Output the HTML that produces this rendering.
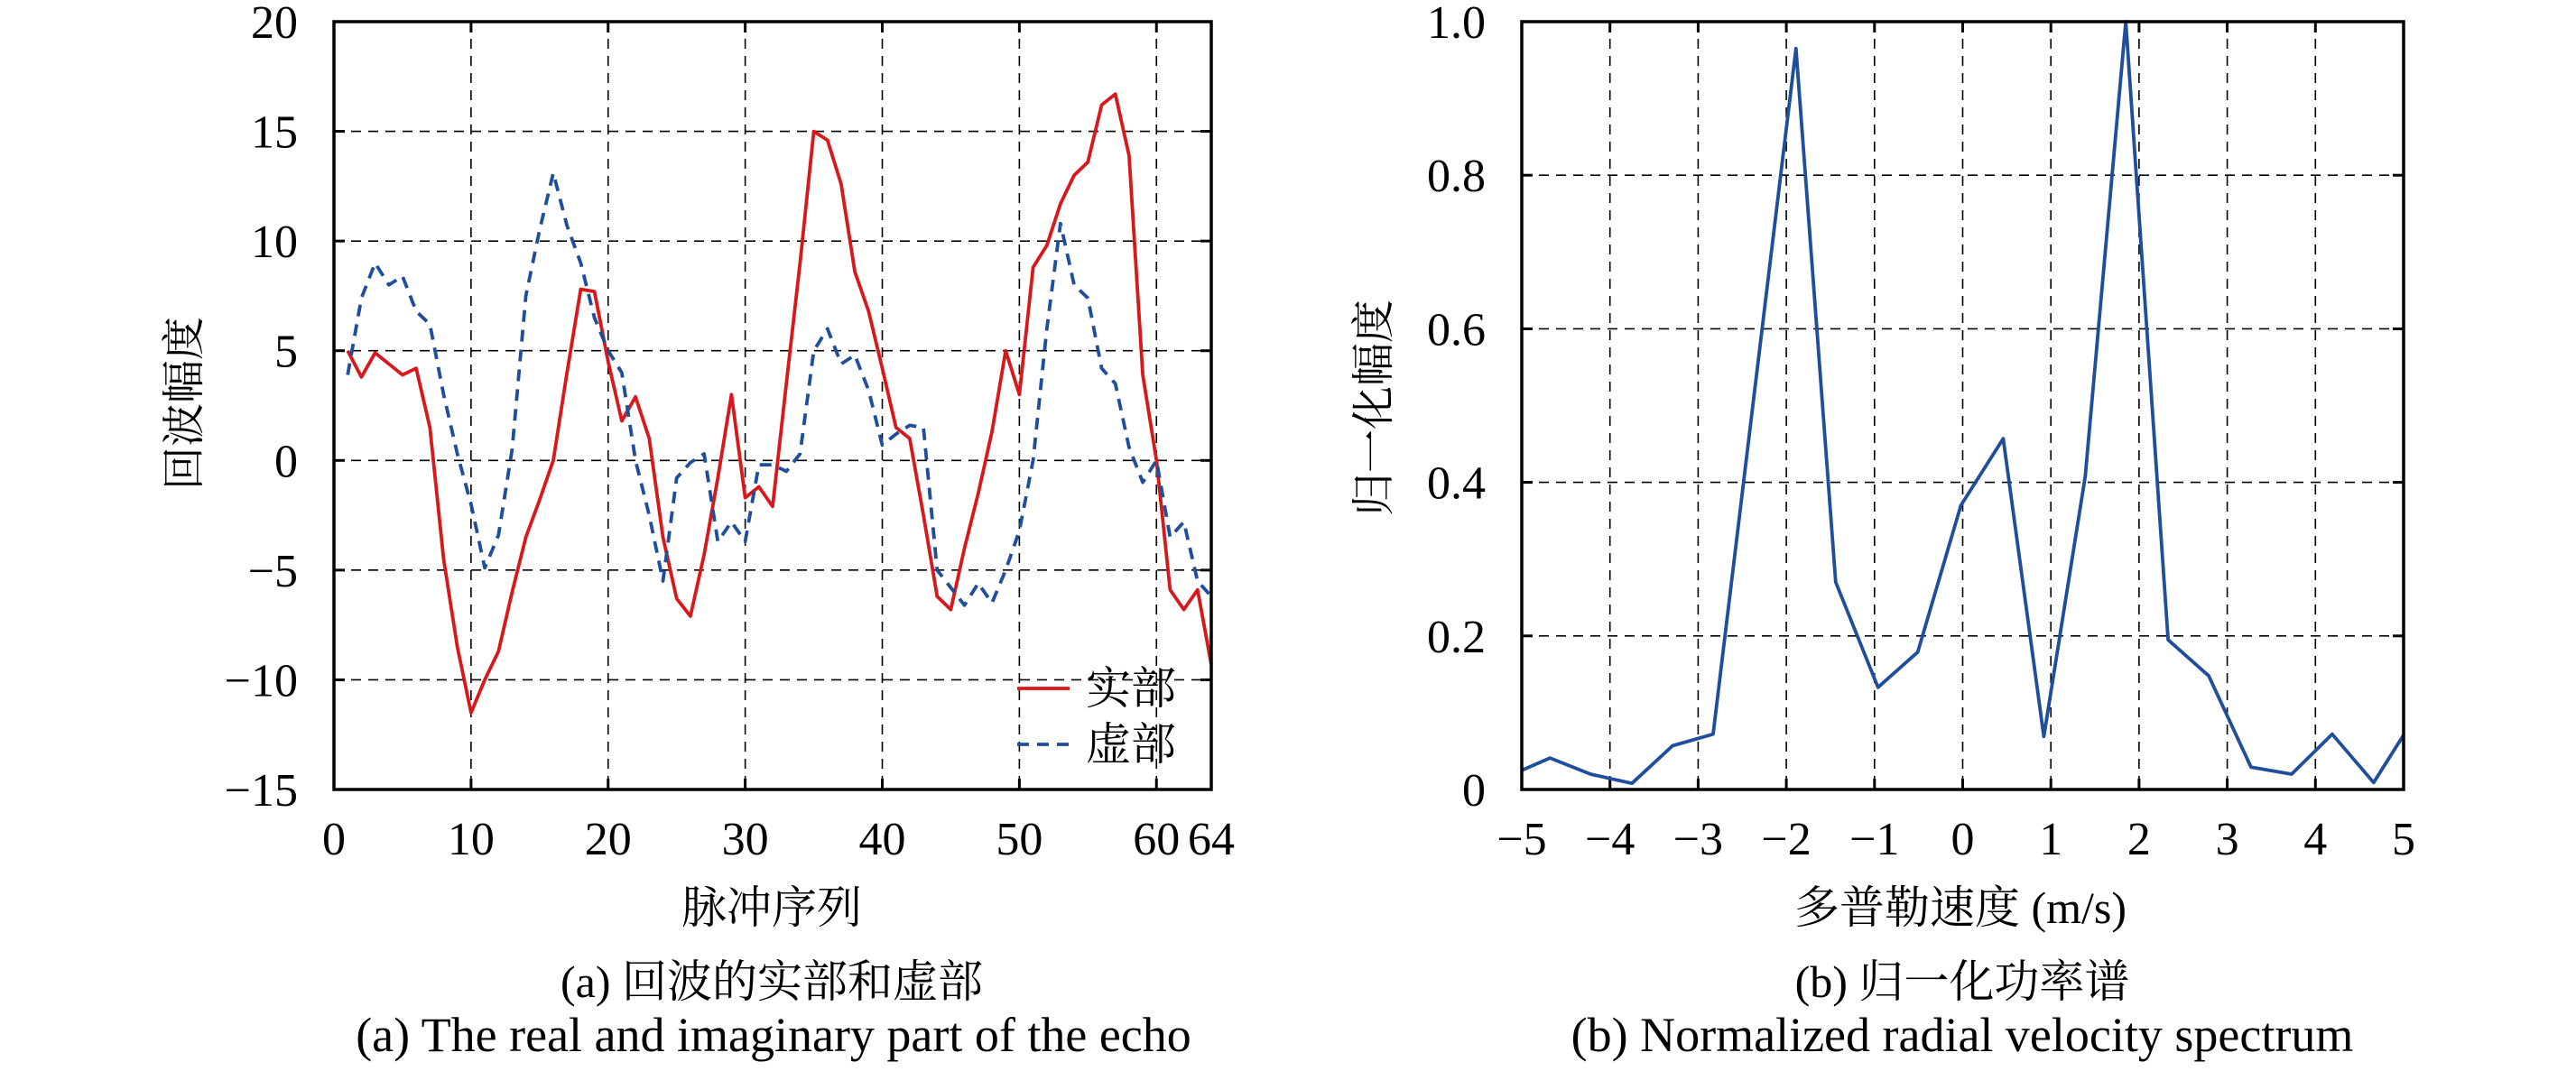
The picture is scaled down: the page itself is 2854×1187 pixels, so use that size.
<!DOCTYPE html>
<html><head><meta charset="utf-8"><style>
html,body{margin:0;padding:0;background:#fff;}
svg{display:block;}
text{font-family:"Liberation Serif","Noto Serif CJK SC",serif;fill:#000;}
</style></head>
<body>
<svg id="fig" width="2854" height="1187" viewBox="0 0 2854 1187" xmlns="http://www.w3.org/2000/svg"></svg>
<script>
// ---- Chart (a) data ----
const pulseIndex = [1,2,3,4,5,6,7,8,9,10,11,12,13,14,15,16,17,18,19,20,21,22,23,24,25,26,27,28,29,30,31,32,33,34,35,36,37,38,39,40,41,42,43,44,45,46,47,48,49,50,51,52,53,54,55,56,57,58,59,60,61,62,63,64];
const realPart = [5,3.8,4.9,4.4,3.9,4.2,1.5,-4.5,-8.5,-11.5,-10,-8.7,-6,-3.5,-1.8,0,4,7.8,7.7,4.5,1.8,2.9,1,-3.5,-6.3,-7.1,-4.3,-0.8,3,-1.7,-1.2,-2.1,3.5,9,15,14.6,12.6,8.6,6.8,4.2,1.5,1,-2.5,-6.2,-6.8,-4,-1.5,1.3,5,3,8.8,9.8,11.7,13,13.6,16.2,16.7,13.9,3.9,0,-5.9,-6.8,-5.9,-9.3];
const imagPart = [3.9,7.4,9,8,8.4,6.8,6.2,3,0.3,-2,-4.9,-3.4,0.5,7.5,10.5,13.1,10.7,9,6.5,5,4,0,-2.5,-5.5,-0.8,-0.1,0.3,-3.7,-2.8,-3.7,-0.2,-0.2,-0.5,0.3,5,6,4.4,4.8,3.2,0.7,1.2,1.6,1.5,-5,-5.8,-6.6,-5.6,-6.5,-5,-3.2,0,6,10.8,8,7.4,4.2,3.5,0.6,-1,0,-3.5,-2.8,-5.5,-6.2];
const aXTicks = [0,10,20,30,40,50,60,64];
const aYTicks = [-15,-10,-5,0,5,10,15,20];
// ---- Chart (b) data ----
const velocity = [-5,-4.68,-4.22,-3.75,-3.29,-2.83,-1.89,-1.44,-0.96,-0.51,-0.02,0.46,0.92,1.39,1.85,2.33,2.79,3.27,3.73,4.19,4.66,5];
const spectrum = [0.025,0.041,0.02,0.008,0.057,0.072,0.965,0.27,0.133,0.179,0.37,0.457,0.069,0.408,1.0,0.195,0.148,0.029,0.02,0.072,0.009,0.071];
const bXTicks = [-5,-4,-3,-2,-1,0,1,2,3,4,5];
const bYTicks = [0,0.2,0.4,0.6,0.8,1.0];
const bYLabels = ["0","0.2","0.4","0.6","0.8","1.0"];

const NS="http://www.w3.org/2000/svg";
const svg=document.getElementById('fig');
function mk(tag,attrs,parent){const e=document.createElementNS(NS,tag);for(const k in attrs)e.setAttribute(k,attrs[k]);(parent||svg).appendChild(e);return e;}

function drawChart(cfg){
  const g=mk('g',{});
  
  
  const L=cfg.L,R=cfg.R,T=cfg.T,B=cfg.B;
  const sx=v=>L+(v-cfg.x0)/(cfg.x1-cfg.x0)*(R-L);
  const sy=v=>B-(v-cfg.y0)/(cfg.y1-cfg.y0)*(B-T);
  cfg.xt.forEach(v=>{
    if(v>cfg.x0&&v<cfg.x1&&cfg.xGrid.indexOf(v)>=0){
      const l=mk('line',{x1:sx(v),x2:sx(v),y1:T,y2:B,stroke:'#000','stroke-width':1.6,'stroke-dasharray':'11,8'},g);
      
      
    }
  });
  cfg.yt.forEach(v=>{
    if(v>cfg.y0&&v<cfg.y1){
      const l=mk('line',{x1:L,x2:R,y1:sy(v),y2:sy(v),stroke:'#000','stroke-width':1.6,'stroke-dasharray':'11,8'},g);
      
      
    }
  });
  cfg.xt.forEach((v,i)=>{
    mk('line',{x1:sx(v),x2:sx(v),y1:B,y2:B-12,stroke:'#000','stroke-width':3},g);
    mk('line',{x1:sx(v),x2:sx(v),y1:T,y2:T+12,stroke:'#000','stroke-width':3},g);
    const t=mk('text',{x:sx(v),y:B+72,'font-size':52,'text-anchor':'middle'},g);
    t.textContent=cfg.xl?cfg.xl[i]:String(v).replace('-','\u2212');
    
    
  });
  cfg.yt.forEach((v,i)=>{
    mk('line',{x1:L,x2:L+12,y1:sy(v),y2:sy(v),stroke:'#000','stroke-width':3},g);
    mk('line',{x1:R,x2:R-12,y1:sy(v),y2:sy(v),stroke:'#000','stroke-width':3},g);
    const t=mk('text',{x:L-40,y:sy(v)+18,'font-size':52,'text-anchor':'end'},g);
    t.textContent=cfg.yl?cfg.yl[i]:String(v).replace('-','\u2212');
    
    
  });
  cfg.series.forEach(s=>{
    const d=s.xs.map((x,i)=>(i?'L':'M')+sx(x).toFixed(1)+','+sy(s.ys[i]).toFixed(1)).join(' ');
    const p=mk('path',{d:d,fill:'none',stroke:s.color,'stroke-width':3.8,'stroke-linejoin':'round'},g);
    if(s.dash)p.setAttribute('stroke-dasharray',s.dash);
    
    
  });
  const f=mk('rect',{x:L,y:T,width:R-L,height:B-T,fill:'none',stroke:'#000','stroke-width':3.5},g);
  
  
  return {sx,sy,g};
}

drawChart({name:'chart-a-echo',L:370,R:1342,T:24,B:875,x0:0,x1:64,y0:-15,y1:20,
  xt:aXTicks,yt:aYTicks,xGrid:[10,20,30,40,50,60],
  series:[{name:'real-part-line',xs:pulseIndex,ys:realPart,color:'#d7191c'},
          {name:'imag-part-line',xs:pulseIndex,ys:imagPart,color:'#1f4e9c',dash:'13,9'}]});
drawChart({name:'chart-b-spectrum',L:1686,R:2663,T:24,B:875,x0:-5,x1:5,y0:0,y1:1,
  xt:bXTicks,yt:bYTicks,yl:bYLabels,xGrid:[-4,-3,-2,-1,0,1,2,3,4],
  series:[{name:'spectrum-line',xs:velocity,ys:spectrum,color:'#1f4e9c'}]});
</script>
<svg style="position:absolute;left:0;top:0" width="2854" height="1187">
  <g>
    <line x1="1127" y1="763" x2="1185" y2="763" stroke="#d7191c" stroke-width="3.8"/>
    <text x="1203" y="780" font-size="50">实部</text>
    <line x1="1127" y1="825" x2="1185" y2="825" stroke="#1f4e9c" stroke-width="3.8" stroke-dasharray="13,9"/>
    <text x="1203" y="842" font-size="50">虚部</text>
  </g>
  <text transform="translate(220,447) rotate(-90)" font-size="48" text-anchor="middle">回波幅度</text>
  <text x="855" y="1023" font-size="50" text-anchor="middle">脉冲序列</text>
  <text x="855" y="1105" font-size="50" text-anchor="middle">(a) 回波的实部和虚部</text>
  <text x="857" y="1165" font-size="54" text-anchor="middle">(a) The real and imaginary part of the echo</text>
  <text transform="translate(1538,452) rotate(-90)" font-size="48" text-anchor="middle">归一化幅度</text>
  <text x="2172" y="1023" font-size="50" text-anchor="middle">多普勒速度 (m/s)</text>
  <text x="2174" y="1105" font-size="50" text-anchor="middle">(b) 归一化功率谱</text>
  <text x="2174" y="1165" font-size="54" text-anchor="middle">(b) Normalized radial velocity spectrum</text>
</svg>
</body></html>
